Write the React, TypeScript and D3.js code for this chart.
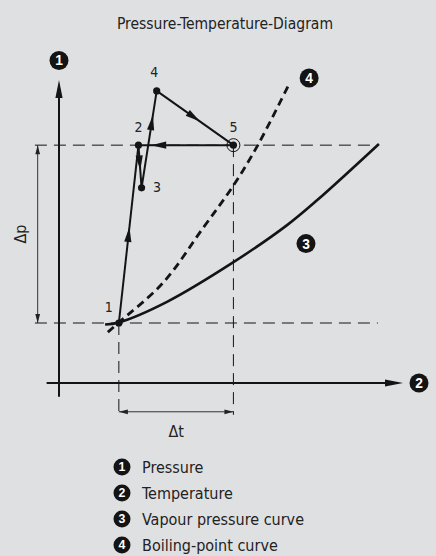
import React from 'react'
import * as d3 from 'd3'

// canvas
const W = 436
const H = 556

// cycle states 1..5 (temperature, pressure), no real units on the diagram
const stateNames = ['1', '2', '3', '4', '5']
const stateT = [1.74, 2.31, 2.40, 2.84, 5.07]
const stateP = [1.98, 7.85, 6.44, 9.64, 7.85]

// order the cycle is walked: 1 -> 2 -> 3 -> 4 -> 5 -> 2
const pathOrder = [0, 1, 2, 3, 4, 1]
// where the arrow tip sits on each segment (fraction of the way)
const arrowAt = [0.54, 0.59, 0.75, 0.565, 0.866]

// vapour pressure curve (3)
const vapourT = [1.34, 1.74, 3.14, 5.06, 6.63, 7.50, 9.30]
const vapourP = [1.93, 2.00, 2.68, 3.98, 5.21, 6.03, 7.89]

// boiling-point curve (4)
const boilT = [1.42, 1.74, 3.02, 4.19, 5.06, 5.78, 6.69]
const boilP = [1.68, 2.00, 3.30, 5.12, 6.50, 7.85, 9.87]

const legendNums = ['1', '2', '3', '4']
const legendLabels = ['Pressure', 'Temperature', 'Vapour pressure curve', 'Boiling-point curve']

// Style
const INK = '#141414'
const BG = '#dfe0e2'
const FONT = '"DejaVu Sans Condensed", "Liberation Sans", sans-serif'

const x = d3.scaleLinear().domain([0, 10]).range([59, 403])
const y = d3.scaleLinear().domain([0, 10]).range([383, 80])

// filled arrow head, tip at (tx,ty), pointing along (ux,uy)
const head = (tx: number, ty: number, ux: number, uy: number, len: number, half: number) => {
  const n = Math.hypot(ux, uy)
  ux /= n
  uy /= n
  const bx = tx - ux * len
  const by = ty - uy * len
  return `M${tx},${ty}L${bx - uy * half},${by + ux * half}L${bx + uy * half},${by - ux * half}Z`
}

const Badge = (props: { cx: number; cy: number; r: number; n: string }) => (
  <g>
    <circle cx={props.cx} cy={props.cy} r={props.r} fill={INK} />
    <text
      x={props.cx}
      y={props.cy}
      dy="0.36em"
      textAnchor="middle"
      fill="#fff"
      fontFamily='"Liberation Sans", Arial, sans-serif'
      fontWeight="bold"
      fontSize={props.r * 1.45}
    >
      {props.n}
    </text>
  </g>
)

const App = () => {
  const pts = stateT.map((t, i) => [x(t), y(stateP[i])])

  const smooth = d3
    .line<[number, number]>()
    .x((d) => x(d[0]))
    .y((d) => y(d[1]))
    .curve(d3.curveCatmullRom.alpha(0.5))
  const vapourPath = smooth(vapourT.map((t, i) => [t, vapourP[i]]))
  const boilPath = smooth(boilT.map((t, i) => [t, boilP[i]]))

  // segments of the cycle with arrows
  const segs = pathOrder.slice(1).map((to, i) => {
    const a = pts[pathOrder[i]]
    const b = pts[to]
    const f = arrowAt[i]
    const tx = a[0] + (b[0] - a[0]) * f
    const ty = a[1] + (b[1] - a[1]) * f
    return { a, b, arrow: head(tx, ty, b[0] - a[0], b[1] - a[1], 15, 3.6) }
  })

  const p1 = stateP[0]
  const p5 = stateP[4]
  const t1 = stateT[0]
  const t5 = stateT[4]
  const dashLeft = x(-0.7)
  const dashRight = x(9.27)
  const dashBottom = y(-1.05)
  const dimX = x(-0.62)
  const dimY = y(-0.95)

  const labelOffset = [
    [-10, -11],
    [0, -13],
    [15.5, 4.5],
    [-2.5, -14],
    [0, -13.5],
  ]

  return (
    <svg width={W} height={H} style={{ position: 'absolute', left: 0, top: 0 }}>
      <rect width={W} height={H} fill={BG} />

      <text x={225} y={29} textAnchor="middle" fontFamily={FONT} fontSize={15.5} fill="#222">
        Pressure-Temperature-Diagram
      </text>

      {/* reference lines */}
      <g stroke={INK} strokeWidth={1} strokeDasharray="12,7" fill="none">
        <line x1={dashLeft} x2={dashRight} y1={y(p5)} y2={y(p5)} />
        <line x1={dashLeft} x2={dashRight} y1={y(p1)} y2={y(p1)} />
        <line x1={x(t1)} x2={x(t1)} y1={y(p1)} y2={dashBottom} />
        <line x1={x(t5)} x2={x(t5)} y1={y(p5)} y2={dashBottom} />
      </g>

      {/* dimension lines */}
      <g stroke="#333" strokeWidth={1}>
        <line x1={dimX} x2={dimX} y1={y(p5)} y2={y(p1)} />
        <line x1={x(t1)} x2={x(t5)} y1={dimY} y2={dimY} />
      </g>
      <g fill="#222">
        <path d={head(dimX, y(p5), 0, -1, 9, 2.4)} />
        <path d={head(dimX, y(p1), 0, 1, 9, 2.4)} />
        <path d={head(x(t1), dimY, -1, 0, 9, 2.4)} />
        <path d={head(x(t5), dimY, 1, 0, 9, 2.4)} />
      </g>
      <text
        transform={`translate(${dimX - 12},${(y(p5) + y(p1)) / 2}) rotate(-90)`}
        textAnchor="middle"
        fontFamily={FONT}
        fontSize={16}
        fill="#222"
      >
        Δp
      </text>
      <text x={(x(t1) + x(t5)) / 2} y={437} textAnchor="middle" fontFamily={FONT} fontSize={16} fill="#222">
        Δt
      </text>

      {/* axes */}
      <g stroke={INK} strokeWidth={2}>
        <line x1={x(0)} x2={x(0)} y1={y(-0.45)} y2={y(9.5)} />
        <line x1={x(-0.36)} x2={x(9.5)} y1={y(0)} y2={y(0)} />
      </g>
      <path d={head(x(0), y(10), 0, -1, 18, 3.6)} fill={INK} />
      <path d={head(x(10), y(0), 1, 0, 18, 3.6)} fill={INK} />

      {/* curves */}
      <path d={vapourPath ?? ''} fill="none" stroke={INK} strokeWidth={2.6} />
      <path d={boilPath ?? ''} fill="none" stroke={INK} strokeWidth={2.8} strokeDasharray="8,5" />

      {/* cycle */}
      <g stroke={INK} strokeWidth={2} fill="none">
        {segs.map((s, i) => (
          <line key={i} x1={s.a[0]} y1={s.a[1]} x2={s.b[0]} y2={s.b[1]} />
        ))}
      </g>
      <g fill={INK}>
        {segs.map((s, i) => (
          <path key={i} d={s.arrow} />
        ))}
      </g>
      <circle cx={pts[4][0]} cy={pts[4][1]} r={6.5} fill="none" stroke={INK} strokeWidth={1} />
      {pts.map((p, i) => (
        <circle key={i} cx={p[0]} cy={p[1]} r={3.6} fill={INK} />
      ))}
      {pts.map((p, i) => (
        <text
          key={i}
          x={p[0] + labelOffset[i][0]}
          y={p[1] + labelOffset[i][1]}
          textAnchor="middle"
          fontFamily={FONT}
          fontSize={14}
          fill="#222"
        >
          {stateNames[i]}
        </text>
      ))}

      {/* numbered badges on the chart */}
      <Badge cx={x(0)} cy={y(10) - 19.5} r={9.5} n="1" />
      <Badge cx={x(10) + 16} cy={y(0)} r={9.5} n="2" />
      <Badge cx={x(7.18)} cy={y(4.6)} r={9.5} n="3" />
      <Badge cx={x(boilT[boilT.length - 1]) + 20} cy={y(boilP[boilP.length - 1]) - 6} r={9.5} n="4" />

      {/* legend */}
      {legendLabels.map((label, i) => (
        <g key={label} transform={`translate(122,${467 + i * 26})`}>
          <Badge cx={0} cy={0} r={8.5} n={legendNums[i]} />
          <text x={20} y={0} dy="0.36em" fontFamily={FONT} fontSize={16} fill="#222">
            {label}
          </text>
        </g>
      ))}
    </svg>
  )
}

export default App
